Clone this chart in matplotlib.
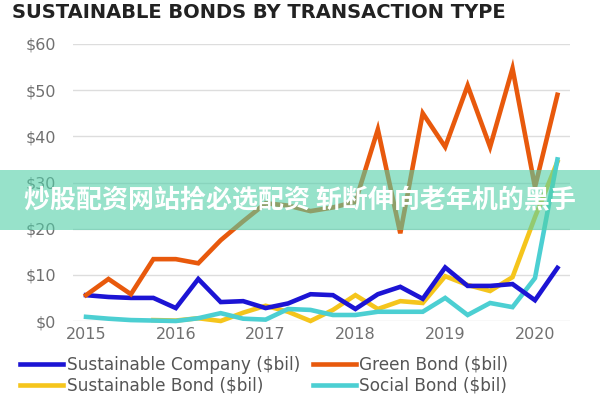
import matplotlib
matplotlib.use("Agg")
import matplotlib.pyplot as plt
import numpy as np

# ---- data (quarterly, 2015 Q1 .. 2020 Q2) ----
quarters = [2015 + i * 0.25 for i in range(22)]
sustainable_company = [5.6, 5.2, 5.0, 5.0, 2.8, 9.1, 4.1, 4.3, 2.8, 3.8, 5.8, 5.6,
                       2.6, 5.8, 7.4, 4.8, 11.6, 7.6, 7.6, 8.0, 4.5, 11.5]
green_bond = [5.6, 9.1, 5.8, 13.4, 13.4, 12.5, 17.5, 21.6, 25.5, 25.0, 23.8, 24.6,
              25.8, 41.5, 19.0, 45.0, 37.7, 51.0, 37.7, 54.7, 29.0, 49.0]
sustainable_bond = [np.nan, np.nan, np.nan, 0.2, 0.1, 0.6, 0.0, 1.8, 3.3, 2.0, 0.0, 2.4,
                    5.6, 2.6, 4.3, 3.9, 9.7, 7.8, 6.5, 9.5, 22.5, 34.5]
social_bond = [0.9, 0.5, 0.2, 0.1, 0.0, 0.6, 1.7, 0.5, 0.3, 2.6, 2.4, 1.3,
               1.3, 2.0, 2.0, 2.0, 5.0, 1.3, 3.9, 3.0, 9.3, 35.0]

year_ticks = [2015, 2016, 2017, 2018, 2019, 2020]
y_ticks = [0, 10, 20, 30, 40, 50, 60]
y_labels = ["$0", "$10", "$20", "$30", "$40", "$50", "$60"]

series_names = ["Sustainable Company ($bil)", "Green Bond ($bil)",
                "Sustainable Bond ($bil)", "Social Bond ($bil)"]
colors = ["#1c14d4", "#e8590c", "#f5c51c", "#4ccfd2"]

title = "SUSTAINABLE BONDS BY TRANSACTION TYPE"
banner = "炒股配资网站拾必选配资 斩断伸向老年机的黑手"

# ---- figure ----
fig = plt.figure(figsize=(6, 4), dpi=100)
ax = fig.add_axes([73 / 600, 1 - 321 / 400, (570 - 73) / 600, (321 - 44) / 400])

data = [sustainable_company, green_bond, sustainable_bond, social_bond]
zorders = [3, 4, 2, 2.5]
lines = []
for vals, name, c, z in zip(data, series_names, colors, zorders):
    ln, = ax.plot(quarters, vals, color=c, lw=3.3, label=name, zorder=z,
                  solid_joinstyle="miter", clip_on=False)
    lines.append(ln)

ax.set_ylim(0, 60)
ax.set_xlim(2014.855, 2020.39)
ax.set_yticks(y_ticks)
ax.set_yticklabels(y_labels)
ax.set_xticks(year_ticks)
ax.set_xticklabels([str(y) for y in year_ticks])
ax.grid(axis="y", color="#dddddd", lw=1)
ax.set_axisbelow(True)
for s in ax.spines.values():
    s.set_visible(False)
ax.tick_params(axis="both", length=0, labelsize=11.5, labelcolor="#707070")
ax.tick_params(axis="y", pad=12)
ax.tick_params(axis="x", pad=4)

fig.text(12 / 600, 1 - 13 / 400, title, fontsize=14, fontweight="bold",
         color="#222222", va="center", ha="left")

order = [0, 2, 1, 3]
fig.legend([lines[i] for i in order], [series_names[i] for i in order],
           ncol=2, loc="upper left", bbox_to_anchor=(20 / 600, 1 - 356 / 400),
           frameon=False, fontsize=12.2, handlelength=2.55, handletextpad=0.2,
           columnspacing=0.75, labelspacing=0.15, borderpad=0, borderaxespad=0,
           labelcolor="#555555")

# watermark banner
fig.patches.append(plt.Rectangle((0, 1 - 230 / 400), 1, 60 / 400,
                                 transform=fig.transFigure, facecolor="#52cfa8",
                                 alpha=0.6, edgecolor="none", zorder=10))
fig.text(0.5, 1 - 201 / 400, banner, fontsize=18.7, fontweight="bold", color="white",
         ha="center", va="center", zorder=11,
         family=["Noto Sans CJK SC", "DejaVu Sans"])

fig.savefig("out.png", dpi=100)
